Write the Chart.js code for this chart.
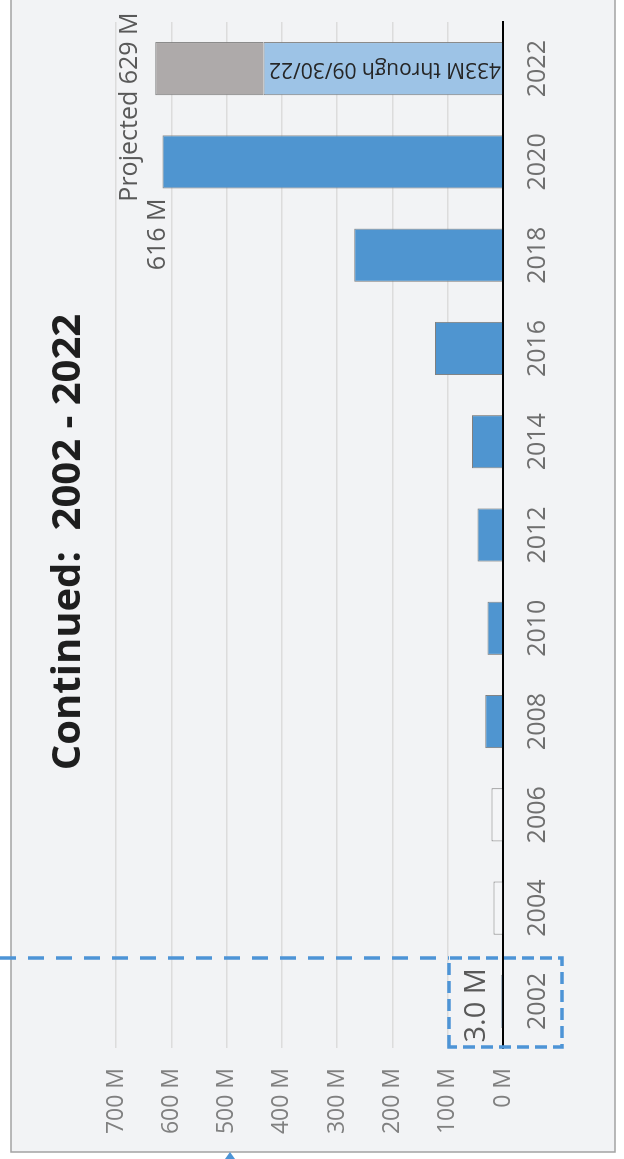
<!DOCTYPE html>
<html>
<head>
<meta charset="utf-8">
<script src="https://cdn.jsdelivr.net/npm/chart.js@4"></script>
<style>
  html, body { margin: 0; padding: 0; background: #fff; overflow: hidden; }
  body { width: 624px; height: 1159px; position: relative; }
  /* chart drawn landscape, then turned a quarter turn to the left */
  #wrap {
    position: absolute; left: 0; top: 0;
    width: 1159px; height: 624px;
    transform-origin: 0 0;
    transform: translate(0, 1159px) rotate(-90deg);
  }
</style>
</head>
<body>
<div id="wrap"><canvas id="c" width="1159" height="624"></canvas></div>
<script>
// Datos (millones)
const years = ['2002', '2004', '2006', '2008', '2010', '2012', '2014', '2016', '2018', '2020', '2022'];
const actualValues = [3.0, 17, 21, 32, 28, 46, 56, 123, 269, 616, 433];
const projectedExtra = [null, null, null, null, null, null, null, null, null, null, 196];
const valueTicks = [0, 100, 200, 300, 400, 500, 600, 700];
const titleText = 'Continued:  2002 - 2022';
const partialNote = '433M through 09/30/22';

const BLUE = '#4f95d0';
const LIGHT_BLUE = '#9dc3e6';
const GREY = '#aeaaaa';
const EDGE = '#7f7f7f';
const DASH = '#4d94d6';

const barColors = years.map((y, i) => {
    if (i === 1 || i === 2) return '#f4f5f7';   // 2004, 2006 sin relleno
    if (i === years.length - 1) return LIGHT_BLUE;
    return BLUE;
});

const overlay = {
    id: 'overlay',
    beforeDraw(chart) {
        const ctx = chart.ctx;
        ctx.save();
        ctx.fillStyle = '#ffffff';
        ctx.fillRect(0, 0, chart.width, chart.height);
        // marco gris
        ctx.fillStyle = '#f2f3f5';
        ctx.fillRect(7, 11, chart.width - 7, 604);
        ctx.strokeStyle = '#a3a3a3';
        ctx.lineWidth = 1.5;
        ctx.beginPath();
        ctx.moveTo(chart.width, 11); ctx.lineTo(7, 11); ctx.lineTo(7, 615); ctx.lineTo(chart.width, 615);
        ctx.stroke();
        ctx.restore();
    },
    afterDraw(chart) {
        const ctx = chart.ctx;
        const ys = chart.scales.y;
        const meta = chart.getDatasetMeta(0);
        const last = years.length - 1;
        ctx.save();

        // titulo
        ctx.fillStyle = '#1e1e1e';
        ctx.font = 'bold 40px "Open Sans"';
        ctx.textAlign = 'center';
        ctx.textBaseline = 'alphabetic';
        ctx.fillText(titleText, 617, 80);

        ctx.fillStyle = '#595959';
        ctx.font = '25px "Open Sans"';

        // 616 M
        const b20 = meta.data[last - 1];
        ctx.textAlign = 'right';
        ctx.fillText(actualValues[last - 1] + ' M', b20.x - b20.width / 2 - 10, ys.getPixelForValue(actualValues[last - 1]) + 3);

        // Projected 629 M
        const total = actualValues[last] + projectedExtra[last];
        const b22 = meta.data[last];
        ctx.textAlign = 'left';
        ctx.fillText('Projected ' + total + ' M', b22.x - 133, ys.getPixelForValue(total) - 18);

        // 3.0 M
        ctx.font = '29px "Open Sans"';
        ctx.textAlign = 'center';
        ctx.fillText(actualValues[0].toFixed(1) + ' M', meta.data[0].x - 4, 485);

        // nota dentro de la barra 2022
        ctx.save();
        ctx.translate(b22.x, ys.getPixelForValue(0) - 2);
        ctx.rotate(-Math.PI / 2);
        ctx.fillStyle = '#262626';
        ctx.font = '21px "Open Sans"';
        ctx.textAlign = 'left';
        ctx.textBaseline = 'middle';
        ctx.fillText(partialNote, 0, 0);
        ctx.restore();

        // recuadro punteado alrededor de 2002
        ctx.strokeStyle = DASH;
        ctx.lineWidth = 3.5;
        ctx.setLineDash([16, 12]);
        ctx.beginPath();
        ctx.moveTo(201, 0); ctx.lineTo(201, 449);
        ctx.stroke();
        ctx.setLineDash([12, 6]);
        ctx.strokeRect(112, 449, 89, 113);

        // punta de flecha
        ctx.setLineDash([]);
        ctx.fillStyle = DASH;
        ctx.beginPath();
        ctx.moveTo(7, 230); ctx.lineTo(0, 225); ctx.lineTo(0, 235); ctx.closePath();
        ctx.fill();
        ctx.restore();
    }
};

new Chart(document.getElementById('c'), {
    type: 'bar',
    data: {
        labels: years,
        datasets: [
            {
                data: actualValues,
                backgroundColor: barColors,
                borderColor: EDGE,
                borderWidth: 1,
                categoryPercentage: 1,
                barPercentage: 0.57
            },
            {
                data: projectedExtra,
                backgroundColor: GREY,
                borderColor: EDGE,
                borderWidth: 1,
                categoryPercentage: 1,
                barPercentage: 0.57
            }
        ]
    },
    options: {
        responsive: false,
        devicePixelRatio: 1,
        animation: false,
        layout: { padding: { left: 0, right: 22, top: 116, bottom: 0 } },
        plugins: { legend: { display: false }, tooltip: { enabled: false }, title: { display: false } },
        scales: {
            x: {
                stacked: true,
                grid: { display: false, drawTicks: false },
                border: { color: '#000000', width: 2 },
                ticks: {
                    color: '#6f6f6f',
                    font: { family: 'Open Sans', size: 25 },
                    padding: 20,
                    maxRotation: 0,
                    autoSkip: false
                },
                afterFit(scale) { scale.height = 121; }
            },
            y: {
                stacked: true,
                min: 0,
                max: valueTicks[valueTicks.length - 1],
                afterBuildTicks(scale) { scale.ticks = valueTicks.map(v => ({ value: v })); },
                grid: { color: '#dcdcdc', lineWidth: 1.5, drawTicks: false },
                border: { display: false },
                ticks: {
                    color: '#808080',
                    font: { family: 'Open Sans', size: 23 },
                    padding: 20,
                    callback: v => v + ' M'
                },
                afterFit(scale) { scale.width = 111; }
            }
        }
    },
    plugins: [overlay]
});
</script>
</body>
</html>
